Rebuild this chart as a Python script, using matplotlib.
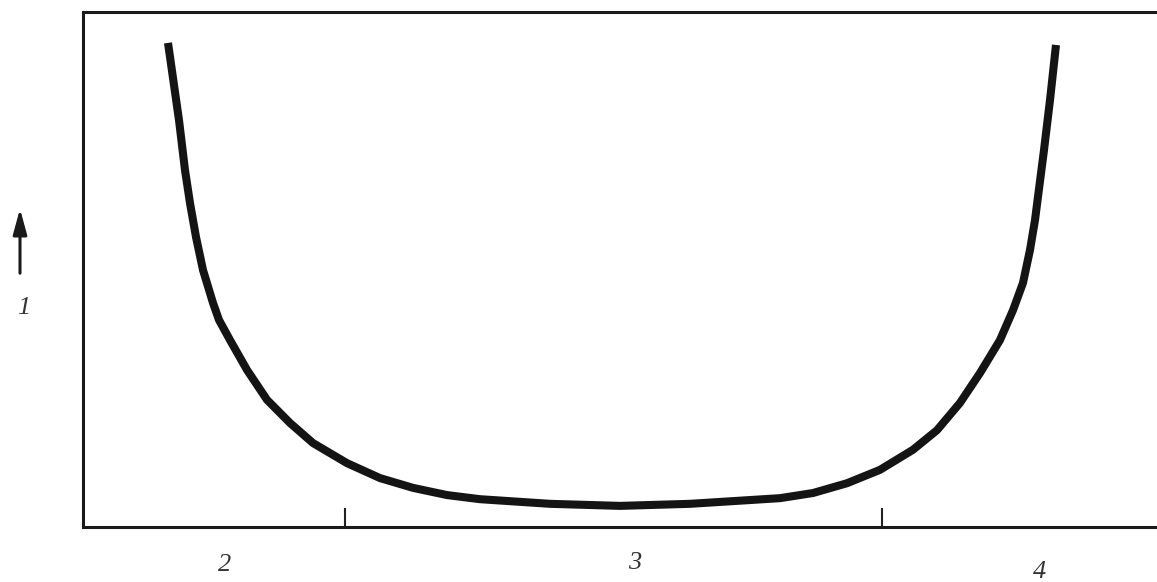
import matplotlib.pyplot as plt
from matplotlib.patches import FancyArrowPatch

# Bathtub curve (time in arbitrary units, rate in %)
time = [8.5, 9.6, 10.2, 10.7, 11.3, 12.0, 13.0, 13.6, 14.7, 16.4, 18.4, 20.7,
        23.0, 26.4, 29.7, 33.0, 36.4, 39.7, 46.7, 53.7, 60.7, 69.7, 73.0,
        76.4, 79.7, 83.0, 85.4, 87.7, 89.7, 91.7, 93.0, 94.0, 94.7, 95.2,
        96.1, 96.7, 97.3]
rate = [94.0, 79.0, 69.3, 62.9, 56.3, 49.9, 43.5, 40.2, 36.3, 30.5, 24.7, 20.2,
        16.3, 12.4, 9.5, 7.6, 6.2, 5.4, 4.5, 4.1, 4.5, 5.6, 6.6,
        8.5, 11.1, 15.0, 18.8, 24.1, 29.9, 36.3, 42.1, 47.4, 53.8, 59.6,
        73.2, 82.9, 93.6]
# boundaries between the three periods
boundaries = [26.2, 79.9]
region_labels = ['2', '3', '4']
y_label = '1'

W, H = 1157, 582
fig = plt.figure(figsize=(W / 100, H / 100), dpi=100)
# axes box; its right edge runs off the page as in the scan
ax = fig.add_axes([83 / W, 1 - 527 / H, 1080 / W, 515 / H])

ax.plot(time, rate, color='#141414', lw=5.8, solid_capstyle='butt',
        solid_joinstyle='round')

ax.set_xlim(0, 108)
ax.set_ylim(0, 100)
for s in ax.spines.values():
    s.set_linewidth(2.2)
    s.set_color('#1a1a1a')
ax.spines['right'].set_visible(False)

ax.set_xticks(boundaries)
ax.set_xticklabels([])
ax.set_yticks([])
ax.tick_params(axis='x', direction='in', length=14, width=1.5, color='#222222')

# period labels under the axis
fnt = dict(family=['Liberation Serif', 'DejaVu Serif'], style='italic',
           fontsize=19, color='#333333', ha='center', va='center')
for (px, py), lab in zip([(225, 565), (635, 563), (1040, 572)], region_labels):
    fig.text(px / W, 1 - py / H, lab, **fnt)

# y label with arrow
fig.text(24 / W, 1 - 308 / H, y_label, **fnt)
fig.patches.append(FancyArrowPatch(
    (20 / W, 1 - 276 / H), (20 / W, 1 - 206 / H), transform=fig.transFigure,
    arrowstyle='-|>,head_length=1.1,head_width=0.3', mutation_scale=14,
    color='#1a1a1a', lw=2.2))

fig.savefig('out.png', dpi=100)
